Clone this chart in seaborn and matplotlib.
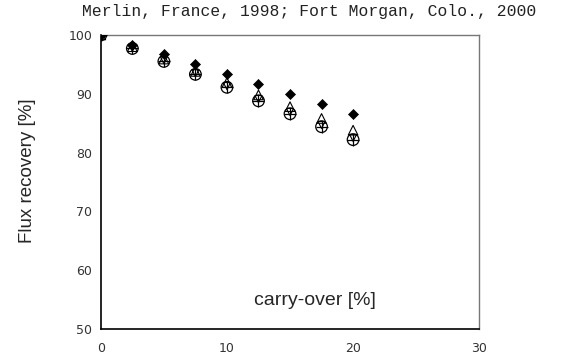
import matplotlib
matplotlib.use("Agg")
import matplotlib.pyplot as plt
import seaborn as sns

carry_over = [0, 2.5, 5, 7.5, 10, 12.5, 15, 17.5, 20]
diamond_vals = [100, 98.3, 96.8, 95.1, 93.4, 91.7, 90.0, 88.3, 86.6]
tri_up_vals = [100, 98.0, 95.9, 93.8, 91.9, 89.8, 87.8, 85.8, 83.8]
tri_down_vals = [100, 97.8, 95.7, 93.5, 91.3, 89.1, 86.9, 84.7, 82.5]
circle_vals = [100, 97.7, 95.5, 93.3, 91.1, 88.8, 86.6, 84.4, 82.2]
plus_vals = [100, 97.7, 95.5, 93.3, 91.1, 88.8, 86.6, 84.4, 82.2]

x_ticks = [0, 10, 20, 30]
y_ticks = [50, 60, 70, 80, 90, 100]
title_text = "Merlin, France, 1998; Fort Morgan, Colo., 2000"

sns.set_style("white")
fig = plt.figure(figsize=(5.76, 3.6), dpi=100)
ax = fig.add_axes([0.175, 0.086, 0.657, 0.817])

sns.scatterplot(x=carry_over, y=diamond_vals, marker="D", s=26, color="black",
                edgecolor="black", linewidth=0.5, ax=ax, zorder=3)
sns.scatterplot(x=carry_over, y=tri_up_vals, marker="^", s=48, facecolors="none",
                edgecolor="black", linewidth=0.8, ax=ax, zorder=3)
sns.scatterplot(x=carry_over, y=tri_down_vals, marker="v", s=26, facecolors="none",
                edgecolor="black", linewidth=0.8, ax=ax, zorder=3)
sns.scatterplot(x=carry_over, y=circle_vals, marker="o", s=70, facecolors="none",
                edgecolor="black", linewidth=0.9, ax=ax, zorder=3)
sns.scatterplot(x=carry_over, y=plus_vals, marker="+", s=70, color="black",
                linewidth=0.9, ax=ax, zorder=3)

ax.set_xlim(0, 30)
ax.set_ylim(50, 100)
ax.set_xticks(x_ticks)
ax.set_yticks(y_ticks)
ax.tick_params(axis="x", direction="inout", length=7, width=1, colors="black",
               labelcolor="#333333", labelsize=9, pad=6)
ax.tick_params(axis="y", direction="out", length=4, width=1, colors="black",
               labelcolor="#333333", labelsize=9, pad=2)

for side in ["left", "bottom"]:
    ax.spines[side].set_color("black")
    ax.spines[side].set_linewidth(1.2)
for side in ["top", "right"]:
    ax.spines[side].set_color("#777777")
    ax.spines[side].set_linewidth(1.0)

ax.set_ylabel("Flux recovery [%]", fontsize=13.5, family="Liberation Sans")
ax.yaxis.set_label_coords(-0.17, 0.54)
ax.set_xlabel("")
ax.text(17.0, 54.9, "carry-over [%]", fontsize=14, family="Liberation Sans",
        ha="center", va="center")

fig.text(0.537, 0.967, title_text, family="Liberation Mono", fontsize=11.8,
         ha="center", va="center", color="#222222")

fig.savefig("out.png", dpi=100)
